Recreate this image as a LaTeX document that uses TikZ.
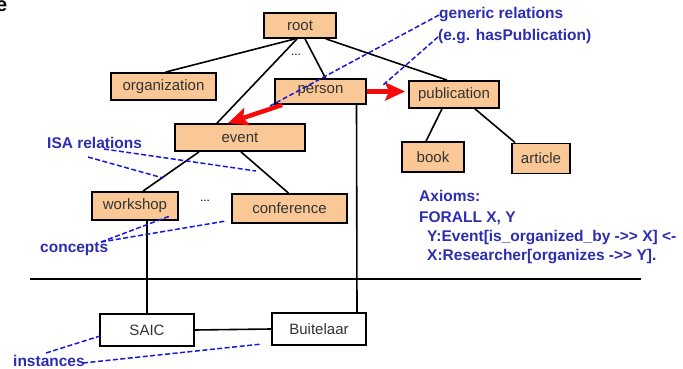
\documentclass[tikz,border=0pt]{standalone}
\usepackage{fontspec}
\setmainfont{Liberation Sans}
\usetikzlibrary{arrows.meta}
\definecolor{concept}{RGB}{250,200,150}
\definecolor{notecol}{RGB}{45,45,175}
\definecolor{dashcol}{RGB}{25,25,215}
\definecolor{relred}{RGB}{245,10,10}
\tikzset{
  cbox/.style={draw=black, line width=1.8pt, fill=concept, inner sep=0pt,
    font=\fontsize{15}{18}\selectfont, text=black!80},
  ibox/.style={draw=black, line width=1.8pt, fill=white, inner sep=0pt,
    font=\fontsize{15}{18}\selectfont, text=black!80},
  isa/.style={line width=1.6pt, black},
  rel/.style={line width=4.5pt, relred, -{Stealth[length=20pt,width=18pt,inset=4pt]}},
  note/.style={text=notecol, font=\bfseries\fontsize{15.5}{18}\selectfont, inner sep=0pt, anchor=west},
  pointer/.style={dashcol, line width=1.5pt, dash pattern=on 5pt off 2.5pt},
  dots/.style={font=\fontsize{12}{14}\selectfont, inner sep=0pt}
}
\begin{document}
\begin{tikzpicture}[x=1pt,y=-1pt]
\useasboundingbox (0,0) rectangle (683,369);

% leftover letter at the top-left corner
\node[font=\bfseries\fontsize{20}{22}\selectfont, inner sep=0pt, anchor=south east] (corner) at (7.5,12) {e};

% concept hierarchy
\node[cbox, minimum width=72pt, minimum height=25pt] (root) at (300,25.5) {root};
\node[cbox, minimum width=105pt, minimum height=27pt] (organization) at (163.5,86.5) {organization};
\node[cbox, minimum width=91pt, minimum height=25pt] (person) at (320.5,91.5) {person};
\node[cbox, minimum width=130pt, minimum height=27pt] (event) at (240,137.5) {event};
\node[cbox, minimum width=90pt, minimum height=27pt] (publication) at (454,94.5) {publication};
\node[cbox, minimum width=62pt, minimum height=30pt] (book) at (433,157) {book};
\node[cbox, minimum width=58pt, minimum height=30pt] (article) at (541,158.5) {article};
\node[cbox, minimum width=86pt, minimum height=28pt] (workshop) at (135,206) {workshop};
\node[cbox, minimum width=115pt, minimum height=29pt] (conference) at (289.5,208.5) {conference};

\node[dots] (dotsA) at (296,55) {...};
\node[dots] (dotsB) at (205,201) {...};

% instances
\node[ibox, minimum width=94pt, minimum height=32pt] (saic) at (147,330) {SAIC};
\node[ibox, minimum width=94pt, minimum height=32pt] (buitelaar) at (319,329) {Buitelaar};

% ISA edges
\draw[isa] ([xshift=-5pt]root.south) -- ([xshift=2pt]organization.north);
\draw[isa] ([xshift=-3pt]root.south) -- ([xshift=-23pt]event.north);
\draw[isa] ([xshift=5pt]root.south) -- ([xshift=5pt]person.north);
\draw[isa] ([xshift=-11pt]root.south east) -- ([xshift=-7pt]publication.north);
\draw[isa] ([xshift=-41pt]event.south) -- ([xshift=8pt]workshop.north);
\draw[isa] ([xshift=1pt]event.south) -- ([xshift=-1pt]conference.north);
\draw[isa] ([xshift=-12pt]publication.south) -- ([xshift=-7pt]book.north);
\draw[isa] ([xshift=21pt]publication.south) -- ([xshift=4pt]article.north west);

% instance links
\draw[isa] (saic.north) -- (saic.north |- workshop.south);
\draw[isa] ([xshift=36pt]person.south) -- ([xshift=38pt]buitelaar.north);
\draw[isa] (saic.east) -- (buitelaar.west);

% separator between concepts and instances
\coordinate (sepL) at (30,279);
\coordinate (sepR) at (641,279);
\draw[line width=1.6pt] (sepL) -- (sepR);

% generic relations
\draw[rel] ([xshift=8pt]person.south west) -- ([xshift=-12pt]event.north);
\draw[rel] (person.east) -- (person.east -| publication.west) [shorten >=3pt];

% annotations
\node[note] (generic) at (439,15) {generic relations};
\node[note] (example) at (438,37) {(e.g. hasPublication)};
\node[note] (isalabel) at (47,143) {ISA relations};
\node[note] (concepts) at (40,249) {concepts};
\node[note] (instances) at (13,361) {instances};

\coordinate (genA) at (270,106);
\coordinate (genB) at (382,86);
\coordinate (isaS1) at (104,149);
\coordinate (isaT1) at (256,171);
\coordinate (isaS2) at (88,157);
\coordinate (isaT2) at (163,178);
\coordinate (conS) at (101,242);
\coordinate (conT1) at (170,216);
\coordinate (conT2) at (226,221);
\coordinate (insS1) at (46,353);
\coordinate (insT1) at (100,336);
\coordinate (insS2) at (83,363);
\coordinate (insT2) at (262,344);

\draw[pointer] (generic.west) -- (genA);
\draw[pointer] (example.west) -- (genB);
\draw[pointer] (isaS1) -- (isaT1);
\draw[pointer] (isaS2) -- (isaT2);
\draw[pointer] (conS) -- (conT1);
\draw[pointer] (conS) -- (conT2);
\draw[pointer] (insS1) -- (insT1);
\draw[pointer] (insS2) -- (insT2);

% axioms
\node[note] (ax1) at (419,196) {Axioms:};
\node[note] (ax2) at (419,218) {FORALL X, Y};
\node[note] (ax3) at (427,238) {Y:Event[is\_organized\_by -{>}{>} X] {<}-};
\node[note] (ax4) at (427,257) {X:Researcher[organizes -{>}{>} Y].};
\end{tikzpicture}
\end{document}
